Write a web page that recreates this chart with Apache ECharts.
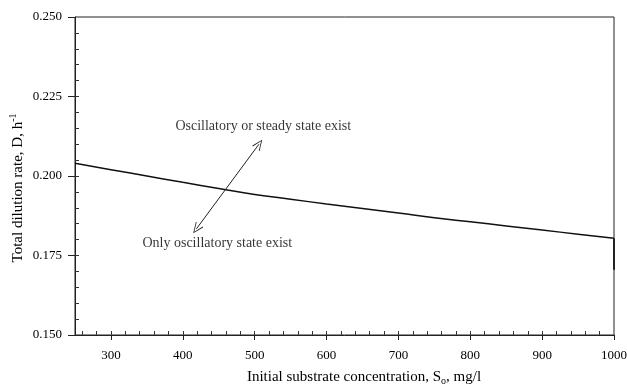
<!DOCTYPE html>
<html>
<head>
<meta charset="utf-8">
<script src="https://cdn.jsdelivr.net/npm/echarts@6/dist/echarts.min.js"></script>
<style>html,body{margin:0;padding:0;background:#fff}#c{width:627px;height:387px}</style>
</head>
<body>
<div id="c"></div>
<script>
// Data
var concentration = [250, 300, 350, 400, 450, 500, 550, 600, 650, 700, 750, 800, 850, 900, 950, 1000];
var dilutionRate = [0.2040, 0.2020, 0.2000, 0.1980, 0.1961, 0.1942, 0.1927, 0.1912, 0.1898, 0.1884, 0.1869, 0.1856, 0.1843, 0.1830, 0.1817, 0.1804];
var edgeX = [1000, 1000];
var edgeY = [0.1804, 0.1705];
var arrowStart = [419, 0.1834];
var arrowEnd = [506, 0.2100];
var labelUpper = {text: 'Oscillatory or steady state exist', x: 512, y: 0.2155};
var labelLower = {text: 'Only oscillatory state exist', x: 448, y: 0.1788};
var xTicks = [300, 400, 500, 600, 700, 800, 900, 1000];
var xMinorTicks = [260, 280, 300, 320, 340, 360, 380, 400, 420, 440, 460, 480, 500, 520, 540, 560, 580, 600, 620, 640, 660, 680, 700, 720, 740, 760, 780, 800, 820, 840, 860, 880, 900, 920, 940, 960, 980];
var yTicks = [0.150, 0.175, 0.200, 0.225, 0.250];
var yMinorTicks = [0.155, 0.160, 0.165, 0.170, 0.175, 0.180, 0.185, 0.190, 0.195, 0.200, 0.205, 0.210, 0.215, 0.220, 0.225, 0.230, 0.235, 0.240, 0.245];

var FONT = 'Liberation Serif';
var INK = '#000';
var chart = echarts.init(document.getElementById('c'), null, {renderer: 'canvas'});

var xBase = {type: 'value', min: 250, max: 1000, interval: 50, splitLine: {show: false}, gridIndex: 0};
var yBase = {type: 'value', min: 0.150, max: 0.250, interval: 0.025, splitLine: {show: false}, gridIndex: 0};

var option = {
  animation: false,
  backgroundColor: '#fff',
  grid: {left: 75, right: 13, top: 17, bottom: 52, outerBoundsMode: 'none', containLabel: false,
    show: true, borderColor: '#222', borderWidth: 1, backgroundColor: 'transparent'},
  xAxis: [
    Object.assign({}, xBase, {
      position: 'bottom',
      axisLine: {show: true, lineStyle: {color: '#222', width: 1}},
      axisTick: {show: true, inside: false, length: 5, customValues: xTicks, lineStyle: {color: '#222'}},
      axisLabel: {show: true, margin: 14, color: INK, fontFamily: FONT, fontSize: 13, customValues: xTicks,
        formatter: function (v) { return String(v); }}
    }),
    Object.assign({}, xBase, {
      position: 'bottom',
      axisLine: {show: false},
      axisTick: {show: true, inside: true, length: 4, customValues: xMinorTicks, lineStyle: {color: '#333'}},
      axisLabel: {show: false}
    })
  ],
  yAxis: [
    Object.assign({}, yBase, {
      position: 'left',
      axisLine: {show: true, lineStyle: {color: '#222', width: 1}},
      axisTick: {show: true, inside: false, length: 7, customValues: yTicks, lineStyle: {color: '#222'}},
      axisLabel: {show: true, margin: 13, color: INK, fontFamily: FONT, fontSize: 13, customValues: yTicks,
        formatter: function (v) { return v.toFixed(3); }}
    }),
    Object.assign({}, yBase, {
      position: 'left',
      axisLine: {show: false},
      axisTick: {show: true, inside: true, length: 4, customValues: yMinorTicks, lineStyle: {color: '#333'}},
      axisLabel: {show: false}
    })
  ],
  graphic: [
    {type: 'text', x: 364, y: 377,
      style: {
        text: '{a|Initial substrate concentration, S}{s|o}{a|, mg/l}',
        rich: {
          a: {fontFamily: FONT, fontSize: 15, fill: INK},
          s: {fontFamily: FONT, fontSize: 10, fill: INK, padding: [9, 0, 0, 0]}
        },
        align: 'center', verticalAlign: 'middle'
      }},
    {type: 'text', x: 18, y: 188, rotation: Math.PI / 2,
      style: {
        text: '{a|Total dilution rate, D, h}{s|-1}',
        rich: {
          a: {fontFamily: FONT, fontSize: 15, fill: INK},
          s: {fontFamily: FONT, fontSize: 10, fill: INK, padding: [0, 0, 9, 0]}
        },
        align: 'center', verticalAlign: 'middle'
      }}
  ],
  series: [
    {
      type: 'line', xAxisIndex: 0, yAxisIndex: 0,
      data: concentration.map(function (x, i) { return [x, dilutionRate[i]]; }),
      smooth: true, showSymbol: false,
      lineStyle: {color: '#111', width: 1.5},
      markLine: {
        silent: true,
        symbol: ['path://M0,0 L5,10 L4.2,10.4 L0,1.8 L-4.2,10.4 L-5,10 Z', 'path://M0,0 L5,10 L4.2,10.4 L0,1.8 L-4.2,10.4 L-5,10 Z'],
        symbolSize: [9, 11],
        label: {show: false},
        lineStyle: {color: '#222', width: 1, type: 'solid'},
        data: [[{coord: arrowStart}, {coord: arrowEnd}]]
      }
    },
    {
      type: 'line', xAxisIndex: 0, yAxisIndex: 0,
      data: edgeX.map(function (x, i) { return [x, edgeY[i]]; }),
      showSymbol: false, lineStyle: {color: '#222', width: 2}
    },
    {
      type: 'scatter', xAxisIndex: 0, yAxisIndex: 0, symbolSize: 0,
      data: [
        {value: [labelUpper.x, labelUpper.y], name: labelUpper.text},
        {value: [labelLower.x, labelLower.y], name: labelLower.text}
      ],
      label: {show: true, position: 'inside', formatter: '{b}', color: INK, fontFamily: FONT, fontSize: 14}
    }
  ]
};
chart.setOption(option);
</script>
</body>
</html>
